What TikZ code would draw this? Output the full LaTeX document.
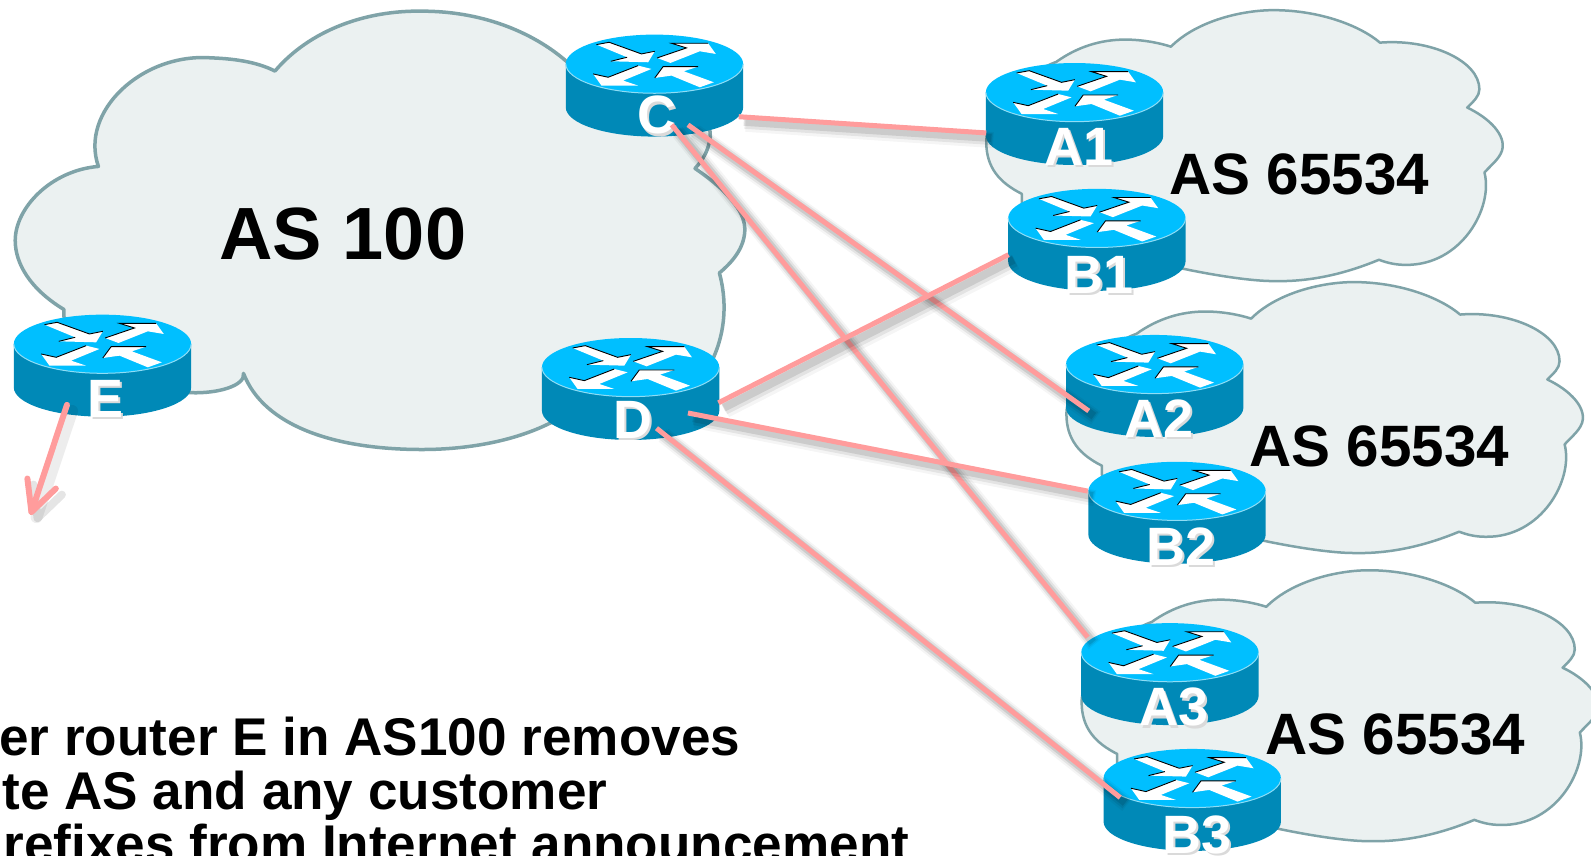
\documentclass[tikz,border=0pt]{standalone}
\usepackage{fontspec}
\setmainfont{Liberation Sans}
\usetikzlibrary{calc}
\definecolor{cloudfill}{HTML}{EBF1F1}
\definecolor{cloudline}{HTML}{7FA3A8}
\definecolor{rtop}{HTML}{00BFFF}
\definecolor{rside}{HTML}{0089B7}
\definecolor{rrim}{HTML}{8FDDF5}
\definecolor{link}{HTML}{FF9C9C}
\definecolor{lshadow}{HTML}{DADADA}
\newcommand{\setpx}[1]{\fontsize{#1}{#1}\selectfont\bfseries}
\tikzset{
  x=0.50735pt,y=-0.50735pt,
  cloudbig/.style={draw=cloudline,fill=cloudfill,line width=1.75pt,line join=round},
  cloudsmall/.style={draw=cloudline,fill=cloudfill,line width=1.25pt,line join=round},
  rbody/.style={fill=rside},
  rface/.style={fill=rtop},
  rrimline/.style={draw=rrim,line width=0.5pt},
  rarrow/.style={fill=white},
  rblack/.style={draw=black,line width=0.45pt},
  anchorpt/.style={inner sep=0pt,minimum size=0pt,outer sep=0pt},
  rlabel/.style={text=white,inner sep=0pt,anchor=base,font=\setpx{27pt}},
  rlabelshadow/.style={rlabel,text=lshadow},
  bigas/.style={inner sep=0pt,anchor=base west,font=\setpx{37pt}},
  midas/.style={inner sep=0pt,anchor=base west,font=\setpx{29.2pt}},
  bodytext/.style={inner sep=0pt,anchor=base west,font=\setpx{26.55pt}},
  linkline/.style={draw=link,line width=2.5pt},
  headline/.style={draw=link,line width=3pt,line cap=round,line join=round},
  shadowa/.style={draw=black,opacity=0.04,line width=8pt},
  shadowb/.style={draw=black,opacity=0.07,line width=6pt},
  shadowc/.style={draw=black,opacity=0.10,line width=4pt},
}
% right-hand cloud, traced around the position of the top one
\newcommand{\smallcloud}[2]{%
  \begin{scope}[shift={(#1,#2)}]
  \draw[cloudsmall] (1007,191) .. controls (985,180) and (972,165) .. (972,140)
    .. controls (972,110) and (1010,72) .. (1041,61) .. controls (1062,46) and (1085,39) .. (1109,39) .. controls (1125,39) and (1142,42) .. (1154,46)
    .. controls (1180,20) and (1225,10) .. (1255,10) .. controls (1300,10) and (1340,25) .. (1360,42)
    .. controls (1410,38) and (1458,60) .. (1458,88) .. controls (1458,95) and (1452,100) .. (1446,106)
    .. controls (1465,115) and (1482,130) .. (1481,145) .. controls (1480,155) and (1470,162) .. (1463,170)
    .. controls (1472,205) and (1440,262) .. (1385,261) .. controls (1375,261) and (1367,259) .. (1359,256)
    .. controls (1330,268) and (1295,278) .. (1255,277) .. controls (1200,277) and (1030,240) .. (1007,200)
    -- cycle;
  \end{scope}}
% router: name, cx, cy, label, label dx, label baseline dy
\newcommand{\router}[6]{%
  \node[anchorpt] (#1) at (#2,#3) {};
  \begin{scope}[shift={(#2,#3)}]
    \path[rbody] (-87.4,0) -- (-87.4,42.7) arc[start angle=180,end angle=0,x radius=87.4,y radius=28.9] -- (87.4,0) -- cycle;
    \path[rface] (0,0) ellipse[x radius=87.4,y radius=28.9];
    \draw[rrimline] (-87.4,0) arc[start angle=180,end angle=0,x radius=87.4,y radius=28.9];
    \begin{scope}[scale=0.3285,shift={(-344,-130)}]
      \fill[rarrow] (170,72)--(208,65)--(305,100)--(345,92)--(325,125)--(213,122)--(262,110)--cycle;
      \fill[rarrow] (352,112)--(440,82)--(395,68)--(505,68)--(528,100)--(480,92)--(392,127)--cycle;
      \fill[rarrow] (335,145)--(295,135)--(205,170)--(160,160)--(185,195)--(295,195)--(250,180)--cycle;
      \fill[rarrow] (345,172)--(370,138)--(475,138)--(432,152)--(522,185)--(480,200)--(395,165)--cycle;
      \draw[rblack] (170,72)--(208,65)--(305,100)--(345,92);
      \draw[rblack] (213,122)--(262,110);
      \draw[rblack] (352,112)--(440,82)--(395,68)--(505,68);
      \draw[rblack] (160,160)--(205,170)--(295,135);
      \draw[rblack] (345,172)--(370,138)--(475,138);
    \end{scope}
    \node[rlabelshadow] (#1-shade) at ($(#5,#6)+(2,2.5)$) {#4};
    \node[rlabel] (#1-label) at (#5,#6) {#4};
  \end{scope}}
% connector with soft shadow between two computed points
\newcommand{\softline}[2]{%
  \draw[shadowa] ($#1+(7,7)$) -- ($#2+(7,7)$);
  \draw[shadowb] ($#1+(6,6)$) -- ($#2+(6,6)$);
  \draw[shadowc] ($#1+(5,5)$) -- ($#2+(5,5)$);
  \draw[linkline] #1 -- #2;}
\begin{document}
\begin{tikzpicture}
\clip (0,0) rectangle (1568,843.6);
\fill[white] (0,0) rectangle (1568,843.6);
% AS 100 cloud
\draw[cloudbig] (97,164) .. controls (78,110) and (140,52) .. (208,57) .. controls (235,58) and (255,62) .. (271,70)
  .. controls (305,30) and (360,10) .. (416,11) .. controls (480,11) and (530,35) .. (560,62)
  .. controls (620,70) and (705,110) .. (700,135) .. controls (698,150) and (692,158) .. (685,166)
  .. controls (720,190) and (735,210) .. (734,228) .. controls (733,245) and (722,258) .. (709,269)
  .. controls (716,295) and (716,325) .. (702,355) .. controls (660,380) and (590,395) .. (540,418)
  .. controls (505,435) and (460,443) .. (416,443) .. controls (330,443) and (260,420) .. (240,368)
  .. controls (242,380) and (215,388) .. (188,387) .. controls (130,385) and (60,360) .. (63,305)
  .. controls (30,285) and (15,260) .. (15,237) .. controls (15,205) and (50,168) .. (97,164) -- cycle;
\smallcloud{0}{0}
\smallcloud{79}{268}
\smallcloud{94}{552}
% routers
\router{C}{645}{63}{C}{2}{69}
\router{A1}{1059}{91}{A1}{4}{72}
\router{B1}{1081}{215}{B1}{2}{74}
\router{A2}{1138}{359}{A2}{4}{72}
\router{B2}{1160}{484}{B2}{4}{73}
\router{A3}{1153}{643}{A3}{4}{72}
\router{B3}{1175}{767}{B3}{5}{74}
\router{D}{621.5}{362}{D}{2}{70}
\router{E}{101}{339}{E}{3}{72}
% texts
\node[bigas] (as100) at (216,256) {AS 100};
\node[midas] (as1) at (1152,192) {AS 65534};
\node[midas] (as2) at (1231,460) {AS 65534};
\node[midas] (as3) at (1247,744) {AS 65534};
\node[bodytext] (t1) at (-1,745) {er router E in AS100 removes};
\node[bodytext] (t2) at (2,798) {te AS and any customer};
\node[bodytext] (t3) at (3,850) {refixes from Internet announcement};
% connectors
\softline{($(C)+(83,52)$)}{($(A1)+(-87,40)$)}
\softline{($(C)+(33,60)$)}{($(A2)+(-65,46)$)}
\softline{($(C)+(17,60)$)}{($(A3)+(-81,-15)$)}
\softline{($(D)+(86.5,35)$)}{($(B1)+(-87,36)$)}
\softline{($(D)+(56.5,45)$)}{($(B2)+(-88,0)$)}
\softline{($(D)+(25.5,60)$)}{($(B3)+(-71,19)$)}
\coordinate (Etip) at (31,504.6);
\coordinate (Ewa) at (27,471.6);
\coordinate (Ewb) at (55,481.5);
\draw[shadowb,line cap=round] ($(E)+(-30,66)$) -- ($(Etip)+(5,5)$);
\draw[shadowc,line cap=round,line join=round] ($(Ewa)+(6,6)$) -- ($(Etip)+(6,6)$) -- ($(Ewb)+(6,6)$);
\draw[headline] ($(E)+(-35,60)$) -- (Etip);
\draw[headline] (Ewa) -- (Etip) -- (Ewb);
\end{tikzpicture}
\end{document}
